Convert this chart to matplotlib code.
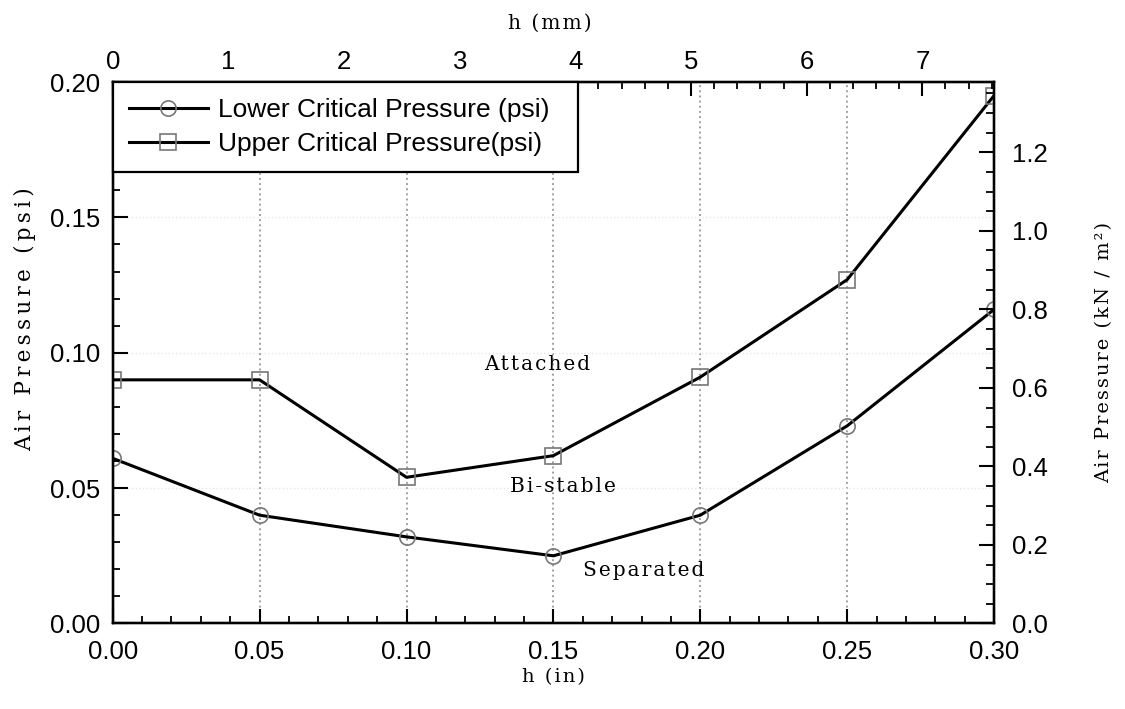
import matplotlib
matplotlib.use("Agg")
import matplotlib.pyplot as plt
from matplotlib.ticker import MultipleLocator

# Datos: espesor h (in) y presiones críticas (psi)
h_in = [0.00, 0.05, 0.10, 0.15, 0.20, 0.25, 0.30]
p_lower = [0.061, 0.040, 0.032, 0.025, 0.040, 0.073, 0.116]
p_upper = [0.090, 0.090, 0.054, 0.062, 0.091, 0.127, 0.195]

# Etiquetas de regiones (texto, x, y)
regions = [("Attached", 0.1445, 0.0957),
           ("Bi-stable", 0.1532, 0.0505),
           ("Separated", 0.1807, 0.0197)]

IN_TO_MM = 25.4
PSI_TO_KPA = 6.894757

SANS = "Liberation Sans"
SERIF = "DejaVu Serif"


def spaced(s, gap="\u200a"):
    # separa letras para imitar el tipo espaciado
    return gap.join(s)


fig = plt.figure(figsize=(11.25, 7.09), dpi=100)
ax = fig.add_axes([0.1002, 0.1206, 0.7834, 0.7637])
ax_r = ax.twinx()
ax_t = ax.twiny()

line_kw = dict(color="black", lw=2.2, mfc="none", mec="#777777", mew=1.2,
               ms=11, zorder=3)
l1, = ax.plot(h_in, p_lower, marker="o", label="Lower Critical Pressure (psi)", **line_kw)
l2, = ax.plot(h_in, p_upper, marker="s", label="Upper Critical Pressure(psi)", **line_kw)

ax.set_xlim(0, 0.30)
ax.set_ylim(0, 0.20)
ax.xaxis.set_major_locator(MultipleLocator(0.05))
ax.xaxis.set_minor_locator(MultipleLocator(0.01))
ax.yaxis.set_major_locator(MultipleLocator(0.05))
ax.yaxis.set_minor_locator(MultipleLocator(0.01))
ax.xaxis.set_major_formatter(lambda v, p: f"{v:.2f}")
ax.yaxis.set_major_formatter(lambda v, p: f"{v:.2f}")

# rejilla punteada
ax.grid(True, axis="x", which="major", ls=":", lw=1.4, color="#a0a0a0")
ax.grid(True, axis="y", which="major", ls=":", lw=1.0, color="#e6e6e6")

# ejes secundarios en mm y kN/m2
ax_t.set_xlim(0, 0.30 * IN_TO_MM)
ax_t.xaxis.set_major_locator(MultipleLocator(1))
ax_t.xaxis.set_minor_locator(MultipleLocator(0.2))
ax_r.set_ylim(0, 0.20 * PSI_TO_KPA)
ax_r.yaxis.set_major_locator(MultipleLocator(0.2))
ax_r.yaxis.set_minor_locator(MultipleLocator(0.05))
ax_r.yaxis.set_major_formatter(lambda v, p: f"{v:.1f}")

TS = 18.5
ax.tick_params(which="both", direction="in", top=False, right=False, labelsize=TS)
ax.tick_params(axis="y", which="major", length=11, width=1.5, pad=9)
ax.tick_params(axis="y", which="minor", length=5, width=1.3)
ax.tick_params(axis="x", which="major", length=10, width=1.5, pad=12)
ax.tick_params(axis="x", which="minor", length=5, width=1.3)
ax_t.tick_params(which="both", direction="in", labelsize=TS)
ax_t.tick_params(which="major", length=10, width=1.5, pad=6)
ax_t.tick_params(which="minor", length=5, width=1.3)
ax_r.tick_params(which="both", direction="in", labelsize=TS)
ax_r.tick_params(which="major", length=11, width=1.5, pad=13)
ax_r.tick_params(which="minor", length=5.5, width=1.3)

for a in (ax, ax_r, ax_t):
    for sp in a.spines.values():
        sp.set_linewidth(1.6)
    for lab in a.get_xticklabels() + a.get_yticklabels():
        lab.set_family(SANS)

# etiquetas de ejes
lab_kw = dict(family=SERIF, va="center")
ax.set_xlabel(spaced("h (in)"), fontsize=14, **lab_kw)
ax.xaxis.set_label_coords(0.4996, -0.099)
ax.set_ylabel(spaced("Air Pressure (psi)", "\u2009"), fontsize=15.5, **lab_kw)
ax.yaxis.set_label_coords(-0.0995, 0.562)
ax_t.set_xlabel(spaced("h (mm)"), fontsize=14.5, **lab_kw)
ax_t.xaxis.set_label_coords(0.4964, 1.109)
ax_r.set_ylabel(spaced("Air Pressure (kN / m²)"), rotation=90, fontsize=14, **lab_kw)
ax_r.yaxis.set_label_coords(1.125, 0.500)

for txt, x, y in regions:
    ax.text(x, y, spaced(txt), family=SERIF, fontsize=14.5, ha="center", va="center")

# leyenda sobre el eje superior para tapar sus marcas
leg = ax_t.legend(handles=[l1, l2], loc="upper left",
                  bbox_to_anchor=(0, 0, 0.528, 1), mode="expand",
                  borderaxespad=0, fancybox=False, framealpha=1,
                  edgecolor="black", prop={"family": SANS, "size": 19},
                  handlelength=3.0, handletextpad=0.4, labelspacing=0.4,
                  borderpad=0.6)
leg.get_frame().set_linewidth(1.6)

fig.savefig("out.png", dpi=100)
